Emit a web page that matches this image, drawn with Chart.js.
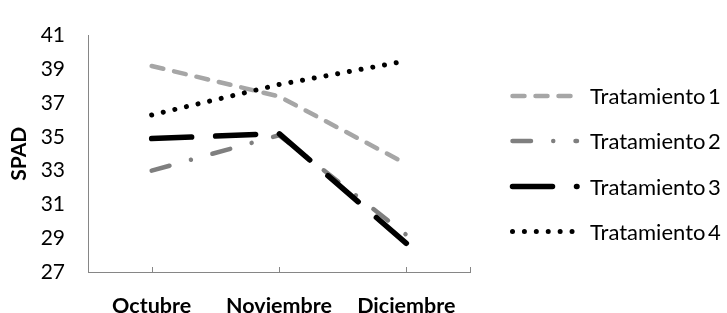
<!DOCTYPE html>
<html>
<head>
<meta charset="utf-8">
<script src="https://cdn.jsdelivr.net/npm/chart.js@4.4.0/dist/chart.umd.min.js"></script>
<style>
html,body{margin:0;padding:0;background:#fff;}
canvas{display:block;}
</style>
</head>
<body>
<canvas id="c" width="727" height="313"></canvas>
<script>
// ---- data ----
const categories = ['Octubre', 'Noviembre', 'Diciembre'];
const seriesNames = ['Tratamiento 1', 'Tratamiento 2', 'Tratamiento 3', 'Tratamiento 4'];
const tratamiento1 = [39.2, 37.4, 33.4];
const tratamiento2 = [33.0, 35.1, 29.2];
const tratamiento3 = [34.9, 35.2, 28.7];
const tratamiento4 = [36.3, 38.1, 39.5];
const yMin = 27, yMax = 41, yStep = 2;
const yTitle = 'SPAD';

// ---- styles ----
const FONT = 'Lato, "Open Sans", sans-serif';
const styles = [
  { color: '#a6a6a6', width: 4.5, dash: [12, 11], order: 3 },
  { color: '#7f7f7f', width: 4.5, dash: [18.5, 22.25, 0.01, 22.25], order: 2 },
  { color: '#000000', width: 5.5, dash: [40, 24], order: 0 },
  { color: '#000000', width: 5, dash: [0.01, 11.9], order: 1 }
];
const allSeries = [tratamiento1, tratamiento2, tratamiento3, tratamiento4];

const datasets = allSeries.map((vals, i) => ({
  label: seriesNames[i],
  data: vals,
  borderColor: styles[i].color,
  backgroundColor: styles[i].color,
  borderWidth: styles[i].width,
  borderDash: styles[i].dash,
  borderCapStyle: 'round',
  borderJoinStyle: 'round',
  pointRadius: 0,
  pointHoverRadius: 0,
  tension: 0,
  fill: false,
  order: styles[i].order
}));

const legendPlugin = {
  id: 'customLegend',
  afterDraw(chart) {
    const ctx = chart.ctx;
    const rows = [96, 141, 186.5, 231.5];
    chart.data.datasets.forEach((ds, i) => {
      const y = rows[i];
      ctx.save();
      ctx.strokeStyle = ds.borderColor;
      ctx.lineWidth = ds.borderWidth;
      ctx.lineCap = 'round';
      ctx.setLineDash(ds.borderDash);
      ctx.lineDashOffset = 0;
      ctx.beginPath();
      ctx.moveTo(512.5, y);
      ctx.lineTo(577, y);
      ctx.stroke();
      ctx.setLineDash([]);
      ctx.fillStyle = '#000';
      ctx.font = '22px ' + FONT;
      try { ctx.wordSpacing = '-3px'; } catch (e) {}
      ctx.textAlign = 'left';
      ctx.textBaseline = 'middle';
      ctx.fillText(ds.label, 590, y + 1, 134);
      ctx.restore();
    });
  }
};

const tickPlugin = {
  id: 'upTicks',
  afterDraw(chart) {
    const ctx = chart.ctx;
    const xs = chart.scales.x;
    const bottom = chart.chartArea.bottom;
    ctx.save();
    ctx.strokeStyle = '#868686';
    ctx.lineWidth = 1;
    const pts = categories.map((c, i) => xs.getPixelForValue(i));
    pts.push(chart.chartArea.right);
    pts.forEach(px => {
      const x = Math.round(px) + 0.5;
      ctx.beginPath();
      ctx.moveTo(x, bottom);
      ctx.lineTo(x, bottom - 5);
      ctx.stroke();
    });
    ctx.restore();
  }
};

new Chart(document.getElementById('c'), {
  type: 'line',
  data: { labels: categories, datasets },
  options: {
    responsive: false,
    devicePixelRatio: 1,
    animation: false,
    layout: { padding: { left: 0, top: 25, right: 257, bottom: 0 } },
    plugins: { legend: { display: false }, tooltip: { enabled: false } },
    scales: {
      x: {
        type: 'category',
        offset: true,
        grid: { display: false, drawTicks: false, tickLength: 0 },
        border: { display: true, color: '#868686', width: 1 },
        ticks: { color: '#000', padding: 21, font: { family: FONT, size: 21.5, weight: 'bold' }, maxRotation: 0, autoSkip: false },
        afterFit(scale) { scale.height = 41; }
      },
      y: {
        min: yMin, max: yMax,
        grid: { display: false, drawTicks: false, tickLength: 0 },
        border: { display: true, color: '#868686', width: 1 },
        ticks: { stepSize: yStep, color: '#000', padding: 23, font: { family: FONT, size: 21 } },
        title: { display: true, text: yTitle, color: '#000', padding: { top: 7, bottom: 0 }, font: { family: FONT, size: 21, weight: 'bold' } },
        afterFit(scale) { scale.width = 88; }
      }
    }
  },
  plugins: [legendPlugin, tickPlugin]
});
</script>
</body>
</html>
